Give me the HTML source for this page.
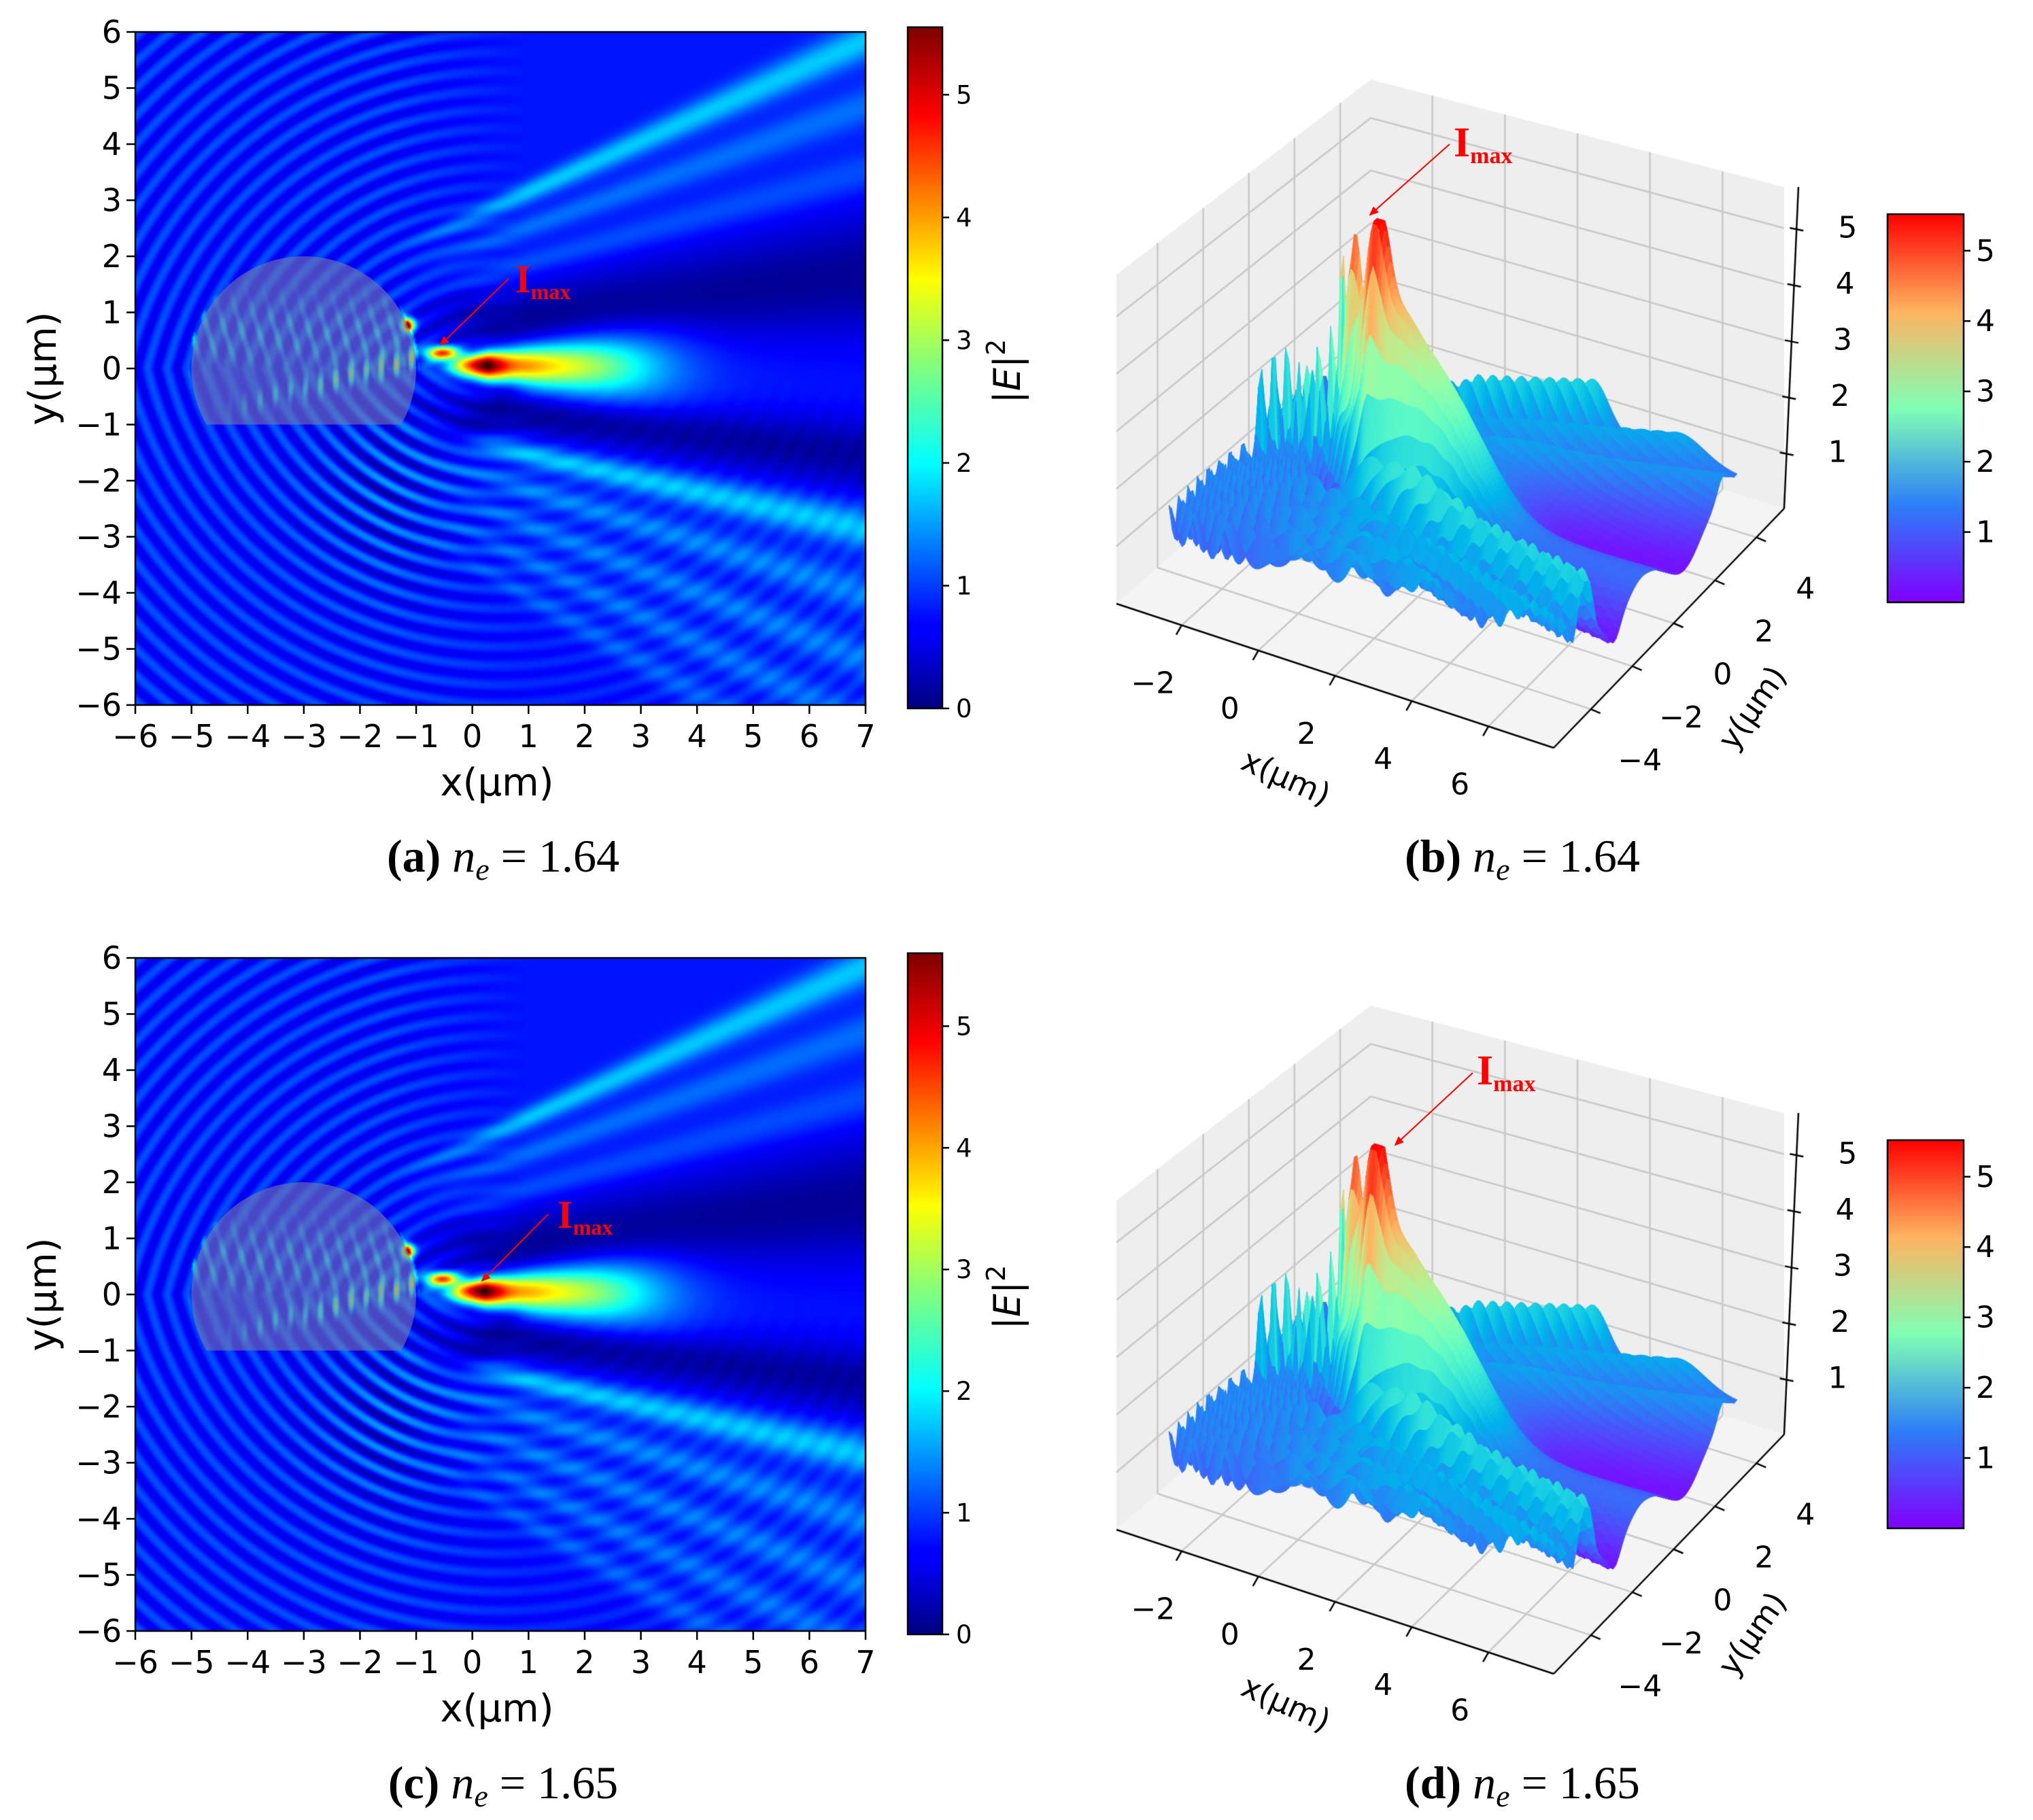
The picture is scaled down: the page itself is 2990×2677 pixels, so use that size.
<!DOCTYPE html>
<html><head><meta charset="utf-8">
<style>
html,body{margin:0;padding:0;background:#fff;}
#wrap{position:relative;width:2990px;height:2677px;overflow:hidden;background:#fff;}
#plot-canvas{position:absolute;left:0;top:0;}
#overlay{position:absolute;left:0;top:0;}
text{font-family:"DejaVu Sans","Liberation Sans",sans-serif;}
.cap{font-family:"Liberation Serif",serif;font-size:68px;}
</style></head>
<body>
<div id="wrap">
<canvas id="plot-canvas" width="2990" height="2677"></canvas>
<svg id="overlay" width="2990" height="2677" xmlns="http://www.w3.org/2000/svg">
<defs>
<linearGradient id="jetg" x1="0" y1="1" x2="0" y2="0">
<stop offset="0" stop-color="#00007f"/><stop offset="0.11" stop-color="#0000ff"/><stop offset="0.125" stop-color="#0000ff"/>
<stop offset="0.36" stop-color="#00ffff"/><stop offset="0.5" stop-color="#7fff7f"/><stop offset="0.63" stop-color="#ffff00"/>
<stop offset="0.87" stop-color="#ff0000"/><stop offset="1" stop-color="#7f0000"/></linearGradient>
<linearGradient id="rainbowg" x1="0" y1="1" x2="0" y2="0">
<stop offset="0" stop-color="#8000ff"/><stop offset="0.25" stop-color="#2c7ef7"/><stop offset="0.5" stop-color="#80ffb4"/>
<stop offset="0.75" stop-color="#ffb360"/><stop offset="1" stop-color="#ff0000"/></linearGradient>
<marker id="arrowhead" markerWidth="14" markerHeight="12" refX="12" refY="6" orient="auto" markerUnits="userSpaceOnUse">
<path d="M0,0 L14,6 L0,12 Z" fill="#ff0000"/></marker>
</defs>
<g id="svg-root"></g>
</svg>
</div>
<script>
// ---------------- data ----------------
const xTicks=[-6,-5,-4,-3,-2,-1,0,1,2,3,4,5,6,7];
const yTicks=[-6,-5,-4,-3,-2,-1,0,1,2,3,4,5,6];
const cbTicks=[0,1,2,3,4,5];
const cbMax=[5.55,5.6];
const peakX=[0.3,0.25];
const peakAmp=[5.0,5.1];
const hotAmp=[3.6,3.5];
const spotAmp=[4.2,4.0];
const bandS=[0.45,0.36,0.27,-0.22,-0.31,-0.40,-0.49,-0.58];
const bandAmp=[1.0,0.5,0.35,1.0,0.6,0.55,0.5,0.4];
const x3Ticks=[-2,0,2,4,6];
const y3Ticks=[-4,-2,0,2,4];
const z3Ticks=[1,2,3,4,5];
const cb3Ticks=[1,2,3,4,5];
const captions=[["(a)","1.64"],["(b)","1.64"],["(c)","1.65"],["(d)","1.65"]];

const NS="http://www.w3.org/2000/svg";
const root=document.getElementById('svg-root');
const cv=document.getElementById('plot-canvas');
const ctx=cv.getContext('2d');
function mk(tag,attrs,parent){const e=document.createElementNS(NS,tag);for(const k in attrs)e.setAttribute(k,attrs[k]);(parent||root).appendChild(e);return e;}
const clamp=v=>Math.max(0,Math.min(1,v));
const gauss=(s,m,w)=>Math.exp(-((s-m)*(s-m))/(2*w*w));
function jet(v){return [clamp(1.5-Math.abs(4*v-3)),clamp(1.5-Math.abs(4*v-2)),clamp(1.5-Math.abs(4*v-1))];}
function rainbow(v){return [clamp(Math.abs(2*v-0.5)),clamp(Math.sin(Math.PI*v)),clamp(Math.cos(Math.PI*v/2))];}

function field(x,y,k,sgScale){
  sgScale=sgScale||1;
  const cy=y>=0?-1.5:1.5;
  const r=Math.hypot(x-0.5,y-cy);
  const fr=Math.cos(2*Math.PI*r/0.34);
  let left=0.85+0.28*fr;
  const d2=Math.hypot(x+1.2,y+2.2);
  left+=0.45*Math.exp(-d2*d2/2.5)*fr;
  const s=y/(x+6);
  let right=0.8;
  right*=1-0.85*gauss(s,0.13,0.06)-0.8*gauss(s,-0.12,0.035);
  for(let i=0;i<bandS.length;i++) right+=bandAmp[i]*gauss(s,bandS[i],0.02);
  right+=0.12*fr*clamp(-s*3);
  const w=clamp((x+1.5)/2.5);
  let val=left*(1-w)+right*w;
  val*=1-0.5*Math.exp(-Math.pow((Math.hypot(x+0.4,y)-1.1)/0.3,2))*clamp(x+1.2)*(y<0.2?1:0.6);
  if(x>-1.2){
    const px=peakX[k];
    let A= x<px? peakAmp[k]*Math.exp(-Math.pow((x-px)/0.6,2)) : peakAmp[k]*Math.exp(-(x-px)/1.0);
    A+=1.5*Math.exp(-Math.pow((x-2)/1.5,2))*clamp((x+0.5));
    const sg=(0.14+0.1*Math.max(0,x))*sgScale;
    val+=A*Math.exp(-Math.pow(y-0.05,2)/(2*sg*sg));
  }
  val+=hotAmp[k]*Math.exp(-(Math.pow((x+0.55)/0.3,2)+Math.pow((y-0.28)/(0.12*sgScale),2)));
  val+=spotAmp[k]*Math.exp(-(Math.pow((x+1.15)/0.12,2)+Math.pow((y-0.78)/0.12,2)));
  if(Math.hypot(x+3,y)<2.05 && y>-1.05){
    const line=-0.75+0.27*(x+4.5);
    val+=2.6*clamp((x+4.8)/3.5)*Math.exp(-Math.pow((y-line)/0.2,2))*Math.max(0,Math.cos(2*Math.PI*x/0.27));
    val+=0.8*Math.max(0,Math.cos(2*Math.PI*(x+0.3*y)/0.3))*Math.exp(-Math.pow((y-0.6)/0.6,2));
  }
  return Math.max(0.02,val);
}

// ---------------- heatmaps ----------------
const HM={left:199,top:47,w:1074,h:990};
const panelDy=[0,1362];
function drawHeatmap(k){
  const dy=panelDy[k];
  const sw=537,sh=495;
  const off=document.createElement('canvas');off.width=sw;off.height=sh;
  const oc=off.getContext('2d');const img=oc.createImageData(sw,sh);
  for(let j=0;j<sh;j++)for(let i=0;i<sw;i++){
    const x=-6+13*(i+0.5)/sw, y=6-12*(j+0.5)/sh;
    const c=jet(field(x,y,k)/cbMax[k]);
    const p=(j*sw+i)*4;img.data[p]=c[0]*255;img.data[p+1]=c[1]*255;img.data[p+2]=c[2]*255;img.data[p+3]=255;
  }
  oc.putImageData(img,0,0);
  ctx.imageSmoothingEnabled=true;
  ctx.drawImage(off,HM.left,HM.top+dy,HM.w,HM.h);
  const g=mk('g',{});
  
  
  const X=v=>HM.left+(v+6)/13*HM.w, Y=v=>HM.top+dy+(6-v)/12*HM.h;
  const cx=X(-3),rx=2*HM.w/13,ry=2*HM.h/12,yb=Y(-1),dx=Math.sqrt(3)*HM.w/13;
  const sph=mk('path',{d:`M${cx-dx},${yb} A${rx},${ry} 0 1 1 ${cx+dx},${yb} Z`,fill:'rgba(120,120,170,0.6)'},g);
  
  
  const fr=mk('rect',{x:HM.left,y:HM.top+dy,width:HM.w,height:HM.h,fill:'none',stroke:'#000','stroke-width':2.5},g);
  
  
  xTicks.forEach(v=>{
    mk('line',{x1:X(v),x2:X(v),y1:HM.top+dy+HM.h,y2:HM.top+dy+HM.h+13,stroke:'#000','stroke-width':2.5},g);
    const t=mk('text',{x:X(v),y:HM.top+dy+HM.h+62,'font-size':46,'text-anchor':'middle'},g);
    t.textContent=(v<0?'\u2212':'')+Math.abs(v);
    
    
  });
  yTicks.forEach(v=>{
    mk('line',{x1:HM.left-13,x2:HM.left,y1:Y(v),y2:Y(v),stroke:'#000','stroke-width':2.5},g);
    const t=mk('text',{x:HM.left-20,y:Y(v)+16,'font-size':46,'text-anchor':'end'},g);
    t.textContent=(v<0?'\u2212':'')+Math.abs(v);
    
    
  });
  const xl=mk('text',{x:731,y:1170+dy,'font-size':56,'text-anchor':'middle'},g);xl.textContent='x(\u03bcm)';
  
  
  const yl=mk('text',{x:0,y:0,'font-size':56,'text-anchor':'middle',transform:`translate(82,${542+dy}) rotate(-90)`},g);yl.textContent='y(\u03bcm)';
  
  
  const cbT=40+dy,cbB=1042+dy,cbX=1335,cbW=51;
  const cb=mk('rect',{x:cbX,y:cbT,width:cbW,height:cbB-cbT,fill:'url(#jetg)',stroke:'#000','stroke-width':2.5},g);
  
  
  cbTicks.forEach(v=>{
    const yy=cbB-(v/cbMax[k])*(cbB-cbT);
    mk('line',{x1:cbX+cbW,x2:cbX+cbW+10,y1:yy,y2:yy,stroke:'#000','stroke-width':2.5},g);
    const t=mk('text',{x:cbX+cbW+20,y:yy+13,'font-size':37},g);t.textContent=String(v);
    
    
  });
  const cl=mk('text',{x:0,y:0,'font-size':54,'text-anchor':'middle',transform:`translate(1500,${546+dy}) rotate(-90)`},g);
  cl.innerHTML='|<tspan font-style="italic">E</tspan>|<tspan dy="-22" font-size="38">2</tspan>';
  
  
  const ann=k==0?{tx:758,ty:430,ax:748,ay:410,bx:648,by:507}:{tx:820,ty:1806,ax:806,ay:1786,bx:709,by:1884};
  const ar=mk('line',{x1:ann.ax,y1:ann.ay,x2:ann.bx,y2:ann.by,stroke:'#ff0000','stroke-width':2,'marker-end':'url(#arrowhead)'},g);
  
  
  const it=mk('text',{x:ann.tx,y:ann.ty,fill:'#ff0000','font-size':58,'font-weight':'bold',style:'font-family:"Liberation Serif",serif'},g);
  it.innerHTML='I<tspan font-size="32" dy="10">max</tspan>';
  
  
}

// ---------------- 3D surfaces ----------------
const X3={min:-3.7,max:7.7}, Y3={min:-5.8,max:5.34}, ZTOP=5.73;
const C3={L:[1642,888],F:[2285,1100],R:[2624,748],B:[2016,560]};
const ZS={L:84.5,F:87,R:82.5,B:77.3};
const shift3=0.5;
function p3(x,y,z,dy){
  const u=(x-X3.min)/(X3.max-X3.min), v=(y-Y3.min)/(Y3.max-Y3.min);
  const a=(1-u)*(1-v),b=u*(1-v),c=u*v,d=(1-u)*v;
  const X=C3.L[0]*a+C3.F[0]*b+C3.R[0]*c+C3.B[0]*d;
  const Y=C3.L[1]*a+C3.F[1]*b+C3.R[1]*c+C3.B[1]*d;
  const zs=ZS.L*a+ZS.F*b+ZS.R*c+ZS.B*d;
  return [X,Y-z*zs+dy];
}
function poly(pts,fill,stroke,lw){ctx.beginPath();ctx.moveTo(pts[0][0],pts[0][1]);for(let i=1;i<pts.length;i++)ctx.lineTo(pts[i][0],pts[i][1]);ctx.closePath();if(fill){ctx.fillStyle=fill;ctx.fill();}if(stroke){ctx.strokeStyle=stroke;ctx.lineWidth=lw;ctx.stroke();}}
function seg(a,b,col,lw){ctx.beginPath();ctx.moveTo(a[0],a[1]);ctx.lineTo(b[0],b[1]);ctx.strokeStyle=col;ctx.lineWidth=lw;ctx.stroke();}
function draw3D(k){
  const dy=panelDy[k];
  const xm=X3.min,xM=X3.max,ym=Y3.min,yM=Y3.max;
  poly([p3(xm,ym,0,dy),p3(xM,ym,0,dy),p3(xM,yM,0,dy),p3(xm,yM,0,dy)],'#f4f4f4');
  poly([p3(xm,ym,0,dy),p3(xm,yM,0,dy),p3(xm,yM,ZTOP,dy),p3(xm,ym,ZTOP,dy)],'#eeeeee');
  poly([p3(xm,yM,0,dy),p3(xM,yM,0,dy),p3(xM,yM,ZTOP,dy),p3(xm,yM,ZTOP,dy)],'#eeeeee');
  const gc='#c8c8c8';
  x3Ticks.forEach(v=>{seg(p3(v,ym,0,dy),p3(v,yM,0,dy),gc,2.5);seg(p3(v,yM,0,dy),p3(v,yM,ZTOP,dy),gc,2.5);});
  y3Ticks.forEach(v=>{seg(p3(xm,v,0,dy),p3(xM,v,0,dy),gc,2.5);seg(p3(xm,v,0,dy),p3(xm,v,ZTOP,dy),gc,2.5);});
  z3Ticks.forEach(v=>{seg(p3(xm,ym,v,dy),p3(xm,yM,v,dy),gc,2.5);seg(p3(xm,yM,v,dy),p3(xM,yM,v,dy),gc,2.5);});
  const sx0=-3.4,sx1=7.0,sy0=-4.0,sy1=4.3,nx=150,ny=60;
  const Z=[];
  for(let j=0;j<=ny;j++){Z.push([]);for(let i=0;i<=nx;i++){const x=sx0+(sx1-sx0)*i/nx,y=sy0+(sy1-sy0)*j/ny;Z[j].push(Math.min(5.5,field(x+shift3,y,k,2.6)));}}
  const quads=[];
  for(let j=0;j<ny;j++)for(let i=0;i<nx;i++){
    const x0=sx0+(sx1-sx0)*i/nx,x1=sx0+(sx1-sx0)*(i+1)/nx,y0=sy0+(sy1-sy0)*j/ny,y1=sy0+(sy1-sy0)*(j+1)/ny;
    const depth=p3((x0+x1)/2,(y0+y1)/2,0,0)[1];
    quads.push([depth,x0,x1,y0,y1,Z[j][i],Z[j][i+1],Z[j+1][i+1],Z[j+1][i]]);
  }
  quads.sort((a,b)=>a[0]-b[0]);
  quads.forEach(q=>{
    const zm=(q[5]+q[6]+q[7]+q[8])/4;
    const c=rainbow(zm/5.52);
    const col=`rgb(${c[0]*255|0},${c[1]*255|0},${c[2]*255|0})`;
    poly([p3(q[1],q[3],q[5],dy),p3(q[2],q[3],q[6],dy),p3(q[2],q[4],q[7],dy),p3(q[1],q[4],q[8],dy)],col,col,1);
  });
  seg(p3(xm,ym,0,dy),p3(xM,ym,0,dy),'#000',2.5);
  seg(p3(xM,ym,0,dy),p3(xM,yM,0,dy),'#000',2.5);
  seg([2624,748+dy],[2645,275+dy],'#000',2.5);
  const g=mk('g',{});
  
  
  x3Ticks.forEach(v=>{
    const a=p3(v,ym,0,dy);seg(a,[a[0]-8,a[1]+14],'#000',2.5);
    const t=mk('text',{x:a[0]-42,y:a[1]+100,'font-size':44,'text-anchor':'middle'},g);t.textContent=(v<0?'\u2212':'')+Math.abs(v);
    
    
  });
  y3Ticks.forEach(v=>{
    const a=p3(xM,v,0,dy);seg(a,[a[0]+14,a[1]+6],'#000',2.5);
    const t=mk('text',{x:a[0]+72,y:a[1]+90,'font-size':44,'text-anchor':'middle'},g);t.textContent=(v<0?'\u2212':'')+Math.abs(v);
    
    
  });
  z3Ticks.forEach(v=>{
    const yy=748-(748-275)*v/ZTOP, xx=2624+21*v/ZTOP;
    seg([xx-10,yy+dy],[xx+10,yy+4+dy],'#000',2.5);
    const t=mk('text',{x:xx+75,y:yy+dy+14,'font-size':44,'text-anchor':'middle'},g);t.textContent=String(v);
    
    
  });
  const xl=mk('text',{x:0,y:0,'font-size':46,'text-anchor':'middle',transform:`translate(1885,${1158+dy}) rotate(24)`},g);xl.textContent='x(\u03bcm)';
  
  
  const yl=mk('text',{x:0,y:0,'font-size':46,'text-anchor':'middle',transform:`translate(2590,${1050+dy}) rotate(-55)`},g);yl.textContent='y(\u03bcm)';
  
  
  const cbT=315+dy,cbB=886+dy;
  const cb=mk('rect',{x:2776,y:cbT,width:112,height:cbB-cbT,fill:'url(#rainbowg)',stroke:'#000','stroke-width':2.5},g);
  
  
  cb3Ticks.forEach(v=>{
    const yy=cbB-v/5.52*(cbB-cbT);
    mk('line',{x1:2888,x2:2898,y1:yy,y2:yy,stroke:'#000','stroke-width':2.5},g);
    const t=mk('text',{x:2906,y:yy+15,'font-size':44},g);t.textContent=String(v);
    
    
  });
  const ann=k==0?{tx:2138,ty:230,ax:2132,ay:212,bx:2015,by:316}:{tx:2172,ty:1595,ax:2166,ay:1578,bx:2052,by:1684};
  const ar=mk('line',{x1:ann.ax,y1:ann.ay,x2:ann.bx,y2:ann.by,stroke:'#ff0000','stroke-width':2,'marker-end':'url(#arrowhead)'},g);
  
  
  const it=mk('text',{x:ann.tx,y:ann.ty,fill:'#ff0000','font-size':62,'font-weight':'bold',style:'font-family:"Liberation Serif",serif'},g);
  it.innerHTML='I<tspan font-size="34" dy="10">max</tspan>';
  
  
}

drawHeatmap(0);drawHeatmap(1);draw3D(0);draw3D(1);

const capPos=[[740,1282],[2239,1282],[740,2645],[2239,2645]];
captions.forEach((c,i)=>{
  const t=mk('text',{x:capPos[i][0],y:capPos[i][1],'text-anchor':'middle',class:'cap'});
  t.innerHTML=`<tspan font-weight="bold">${c[0]}</tspan> <tspan font-style="italic">n</tspan><tspan font-style="italic" font-size="46" dy="12">e</tspan><tspan dy="-12"> = ${c[1]}</tspan>`;
  
  
});
</script>
</body></html>
